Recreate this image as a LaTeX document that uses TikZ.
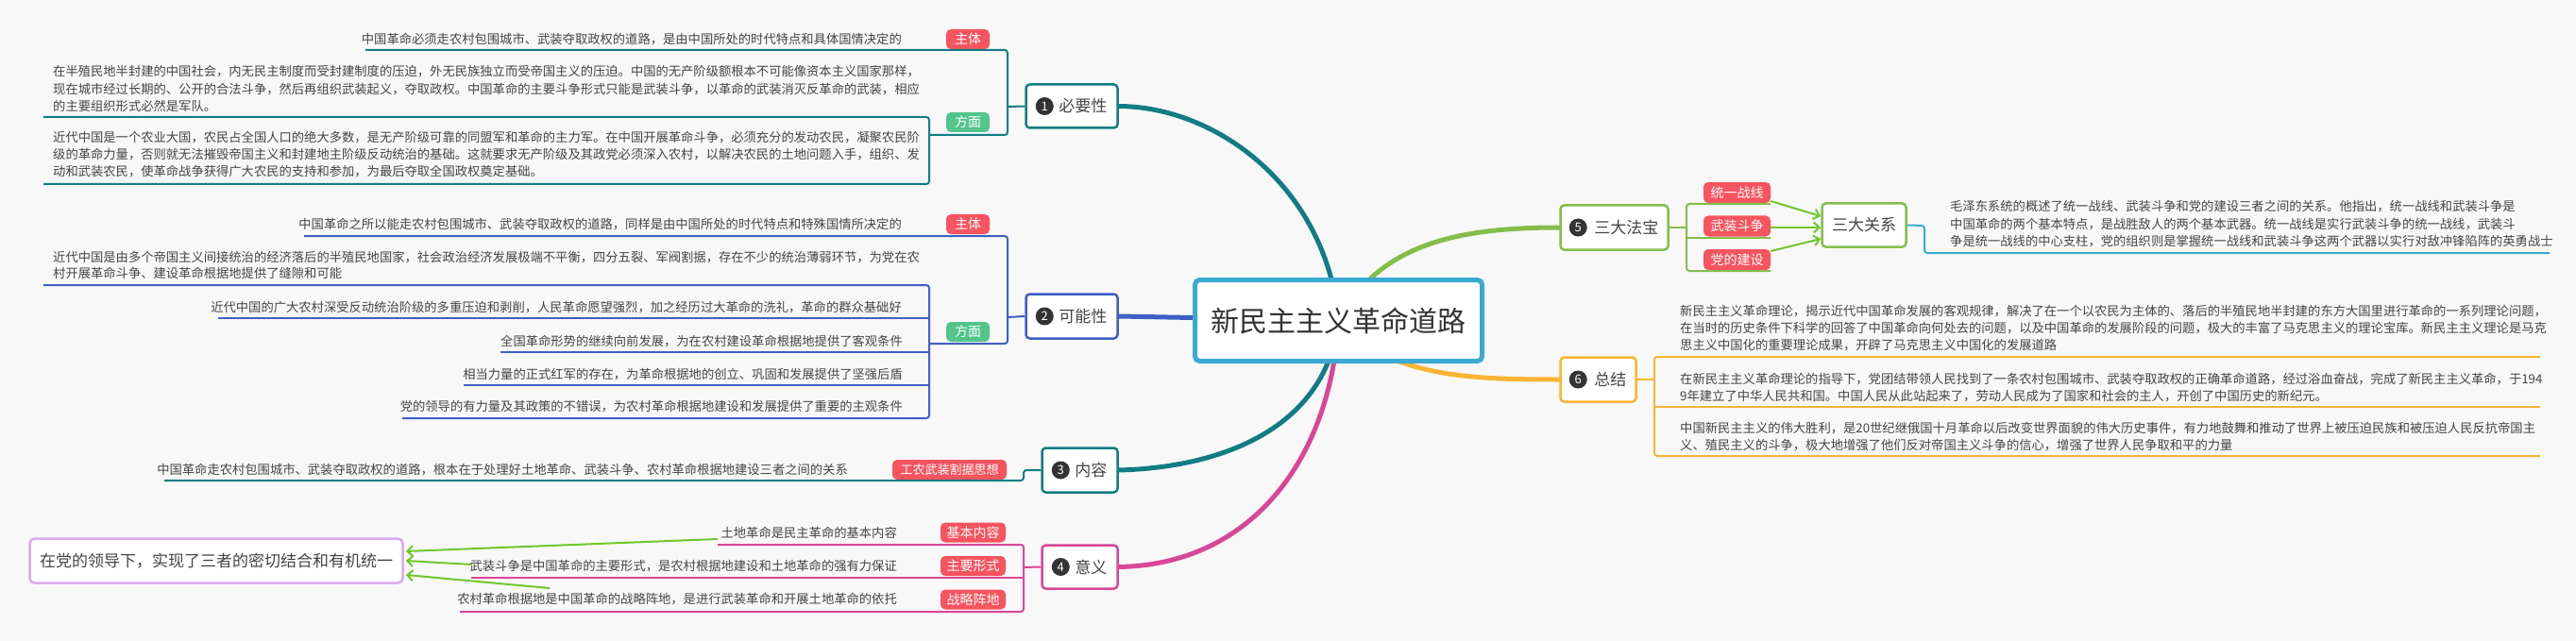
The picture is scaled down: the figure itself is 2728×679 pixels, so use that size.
\documentclass[tikz,border=0pt]{standalone}
\usepackage{fontspec}
\setmainfont{Noto Sans CJK SC}
\usetikzlibrary{arrows.meta}
\pgfdeclarelayer{back}
\pgfdeclarelayer{lines}
\pgfsetlayers{back,lines,main}
\definecolor{bgc}{RGB}{248,248,248}
\definecolor{txtc}{RGB}{68,68,68}
\definecolor{cteal}{RGB}{17,124,133}
\definecolor{cblue}{RGB}{63,95,196}
\definecolor{cpink}{RGB}{217,70,152}
\definecolor{cgreen}{RGB}{132,190,74}
\definecolor{carrow}{RGB}{112,200,44}
\definecolor{cyellow}{RGB}{251,180,52}
\definecolor{clblue}{RGB}{58,170,210}
\definecolor{cpurple}{RGB}{220,168,240}
\definecolor{cred}{RGB}{246,84,94}
\definecolor{ctagg}{RGB}{82,196,140}
\definecolor{cnum}{RGB}{51,51,51}
\begin{document}
\begin{tikzpicture}[x=1pt,y=-1pt,
  txt/.style={font=\fontsize{13.3}{16}\selectfont, text=txtc, inner sep=0pt},
  tagbox/.style={fill=#1, rounded corners=5pt, text=white, font=\fontsize{14}{16}\selectfont, inner sep=0pt, minimum height=21pt},
  branchbox/.style={draw=#1, fill=white, line width=2.5pt, rounded corners=4pt, inner sep=0pt},
  numc/.style={circle, fill=cnum, text=white, inner sep=0pt, minimum size=19pt, font=\fontsize{13}{13}\selectfont},
  lbl/.style={font=\fontsize{17}{20}\selectfont, text=txtc, inner sep=0pt},
  br/.style={draw=#1, line width=2pt, rounded corners=3pt},
  mainline/.style={draw=#1, line width=5pt, line cap=round},
  arr/.style={draw=carrow, line width=2pt, -{Straight Barb[length=6pt,width=11pt]}}
]
\begin{pgfonlayer}{back}
\fill[bgc] (0,0) rectangle (2728,679);
\end{pgfonlayer}
\useasboundingbox (0,0) rectangle (2728,679);

% central topic
\node[draw=clblue, fill=white, line width=5pt, rounded corners=5pt, minimum width=304pt, minimum height=86pt, inner sep=0pt, font=\fontsize{30}{34}\selectfont, text=cnum] (root) at (1417.5,339.5) {新民主主义革命道路};

% branch topics
\node[branchbox=cteal, minimum width=97pt, minimum height=46pt] (n1) at (1135,112.5) {};
\node[numc] (n1c) at ([xshift=21pt]n1.west) {1};
\node[lbl, anchor=west] (n1l) at ([xshift=36pt]n1.west) {必要性};

\node[branchbox=cblue, minimum width=97pt, minimum height=47pt] (n2) at (1135,335) {};
\node[numc] (n2c) at ([xshift=21pt]n2.west) {2};
\node[lbl, anchor=west] (n2l) at ([xshift=36pt]n2.west) {可能性};

\node[branchbox=cteal, minimum width=80pt, minimum height=47pt] (n3) at (1143.5,498) {};
\node[numc] (n3c) at ([xshift=21pt]n3.west) {3};
\node[lbl, anchor=west] (n3l) at ([xshift=36pt]n3.west) {内容};

\node[branchbox=cpink, minimum width=80pt, minimum height=46pt] (n4) at (1143.5,600.5) {};
\node[numc] (n4c) at ([xshift=21pt]n4.west) {4};
\node[lbl, anchor=west] (n4l) at ([xshift=36pt]n4.west) {意义};

\node[branchbox=cgreen, minimum width=114pt, minimum height=47pt] (n5) at (1709.5,241) {};
\node[numc] (n5c) at ([xshift=20pt]n5.west) {5};
\node[lbl, anchor=west] (n5l) at ([xshift=37pt]n5.west) {三大法宝};

\node[branchbox=cyellow, minimum width=80pt, minimum height=47pt] (n6) at (1692.5,402) {};
\node[numc] (n6c) at ([xshift=20pt]n6.west) {6};
\node[lbl, anchor=west] (n6l) at ([xshift=37pt]n6.west) {总结};

% main curves
\begin{pgfonlayer}{lines}
\draw[mainline=cteal] (n1.east) .. controls (1290,113) and (1405,200) .. (root.center);
\draw[mainline=cblue] (n2.east) -- (root.center);
\draw[mainline=cteal] (n3.east) .. controls (1300,495) and (1405,450) .. (root.center);
\draw[mainline=cpink] (n4.east) .. controls (1330,598) and (1410,480) .. (root.center);
\draw[mainline=cgreen] (root.center) .. controls (1460,260) and (1540,241) .. (n5.west);
\draw[mainline=cyellow] (root.center) .. controls (1470,400) and (1560,402) .. (n6.west);
\end{pgfonlayer}

% ---------- 1 必要性 ----------
\node[txt, anchor=base east] (n1a) at (955,47) {中国革命必须走农村包围城市、武装夺取政权的道路，是由中国所处的时代特点和具体国情决定的};
\node[txt, anchor=base west] (n1b1) at (56,81) {在半殖民地半封建的中国社会，内无民主制度而受封建制度的压迫，外无民族独立而受帝国主义的压迫。中国的无产阶级额根本不可能像资本主义国家那样，};
\node[txt, anchor=base west] (n1b2) at (56,100) {现在城市经过长期的、公开的合法斗争，然后再组织武装起义，夺取政权。中国革命的主要斗争形式只能是武装斗争，以革命的武装消灭反革命的武装，相应};
\node[txt, anchor=base west] (n1b3) at (56,118) {的主要组织形式必然是军队。};
\node[txt, anchor=base west] (n1c1) at (56,151) {近代中国是一个农业大国，农民占全国人口的绝大多数，是无产阶级可靠的同盟军和革命的主力军。在中国开展革命斗争，必须充分的发动农民，凝聚农民阶};
\node[txt, anchor=base west] (n1c2) at (56,169) {级的革命力量，否则就无法摧毁帝国主义和封建地主阶级反动统治的基础。这就要求无产阶级及其政党必须深入农村，以解决农民的土地问题入手，组织、发};
\node[txt, anchor=base west] (n1c3) at (56,187) {动和武装农民，使革命战争获得广大农民的支持和参加，为最后夺取全国政权奠定基础。};
\node[tagbox=cred, minimum width=46pt] (n1t1) at (1025,41.5) {主体};
\node[tagbox=ctagg, minimum width=46pt] (n1t2) at (1025,129.5) {方面};
\draw[br=cteal] (387,53) -- (1067,53) -- (1067,143) -- (984,143);
\draw[br=cteal] (46,124) -- (984,124) -- (984,195) -- (46,195);
\draw[br=cteal] (n1.west) -- (1067,113);

% ---------- 2 可能性 ----------
\node[txt, anchor=base east] (n2a) at (955,243) {中国革命之所以能走农村包围城市、武装夺取政权的道路，同样是由中国所处的时代特点和特殊国情所决定的};
\node[txt, anchor=base west] (n2b1) at (56,277) {近代中国是由多个帝国主义间接统治的经济落后的半殖民地国家，社会政治经济发展极端不平衡，四分五裂、军阀割据，存在不少的统治薄弱环节，为党在农};
\node[txt, anchor=base west] (n2b2) at (56,294) {村开展革命斗争、建设革命根据地提供了缝隙和可能};
\node[txt, anchor=base east] (n2c) at (955,330) {近代中国的广大农村深受反动统治阶级的多重压迫和剥削，人民革命愿望强烈，加之经历过大革命的洗礼，革命的群众基础好};
\node[txt, anchor=base east] (n2d) at (956,366) {全国革命形势的继续向前发展，为在农村建设革命根据地提供了客观条件};
\node[txt, anchor=base east] (n2e) at (956,401) {相当力量的正式红军的存在，为革命根据地的创立、巩固和发展提供了坚强后盾};
\node[txt, anchor=base east] (n2f) at (956,435) {党的领导的有力量及其政策的不错误，为农村革命根据地建设和发展提供了重要的主观条件};
\node[tagbox=cred, minimum width=46pt] (n2t1) at (1025,237.5) {主体};
\node[tagbox=ctagg, minimum width=46pt] (n2t2) at (1025,351.5) {方面};
\draw[br=cblue] (322,250) -- (1067,250) -- (1067,364) -- (984,364);
\draw[br=cblue] (46,302) -- (984,302) -- (984,443) -- (426,443);
\draw[br=cblue] (231,337) -- (984,337);
\draw[br=cblue] (530,373) -- (984,373);
\draw[br=cblue] (491,408) -- (984,408);
\draw[br=cblue] (n2.west) -- (1067,336);

% ---------- 3 内容 ----------
\node[txt, anchor=base east] (n3a) at (898,502) {中国革命走农村包围城市、武装夺取政权的道路，根本在于处理好土地革命、武装斗争、农村革命根据地建设三者之间的关系};
\node[tagbox=cred, minimum width=121pt, font=\fontsize{13}{16}\selectfont] (n3t) at (1005.5,497.5) {工农武装割据思想};
\draw[br=cteal] (174,509) -- (1084,509) -- (1084,498) -- (n3.west);

% ---------- 4 意义 ----------
\node[txt, anchor=base east] (n4a) at (950,569) {土地革命是民主革命的基本内容};
\node[txt, anchor=base east] (n4b) at (950,604) {武装斗争是中国革命的主要形式，是农村根据地建设和土地革命的强有力保证};
\node[txt, anchor=base east] (n4cc) at (950,639) {农村革命根据地是中国革命的战略阵地，是进行武装革命和开展土地革命的依托};
\node[tagbox=cred, minimum width=69pt] (n4t1) at (1030.5,564) {基本内容};
\node[tagbox=cred, minimum width=69pt] (n4t2) at (1030.5,599.5) {主要形式};
\node[tagbox=cred, minimum width=69pt] (n4t3) at (1030.5,635) {战略阵地};
\draw[br=cpink] (760,577) -- (1084,577) -- (1084,648) -- (487,648);
\draw[br=cpink] (499,612) -- (1084,612);
\draw[br=cpink] (n4.west) -- (1084,601);

% summary node
\node[draw=cpurple, fill=white, line width=2.5pt, rounded corners=5pt, minimum width=395pt, minimum height=47pt, inner sep=0pt, font=\fontsize{17}{20}\selectfont, text=txtc] (pur) at (229,594) {在党的领导下，实现了三者的密切结合和有机统一};
\coordinate (s1) at (760,571);
\coordinate (s2) at (500,598);
\coordinate (s3) at (582,623);
\draw[arr] (s1) -- ([yshift=10pt,xshift=2pt]pur.east);
\draw[arr] (s2) -- ([xshift=2pt]pur.east);
\draw[arr] (s3) -- ([yshift=-15pt,xshift=2pt]pur.east);

% ---------- 5 三大法宝 ----------
\node[tagbox=cred, minimum width=71pt, minimum height=22pt] (n5t1) at (1839.5,204) {统一战线};
\node[tagbox=cred, minimum width=71pt, minimum height=22pt] (n5t2) at (1839.5,239.5) {武装斗争};
\node[tagbox=cred, minimum width=71pt, minimum height=22pt] (n5t3) at (1839.5,275) {党的建设};
\draw[br=cgreen] (n5.east) -- (1786,241);
\draw[br=cgreen] (1875,216) -- (1786,216) -- (1786,287) -- (1875,287);
\draw[br=cgreen] (1786,252) -- (1875,252);
\node[branchbox=cgreen, minimum width=89pt, minimum height=46pt, font=\fontsize{17}{20}\selectfont, text=txtc] (rel) at (1974,238.5) {三大关系};
\draw[arr] ([xshift=0pt,yshift=-9pt]n5t1.east) -- ([yshift=9.5pt]rel.west);
\draw[arr] ([yshift=-1.5pt]n5t2.east) -- ([yshift=-2.5pt]rel.west);
\draw[arr] ([yshift=9pt]n5t3.east) -- ([yshift=-14.5pt]rel.west);
\draw[br=clblue] (rel.east) -- (2038,239) -- (2038,268) -- (2700,268);
\node[txt, anchor=base west] (r1) at (2065,224) {毛泽东系统的概述了统一战线、武装斗争和党的建设三者之间的关系。他指出，统一战线和武装斗争是};
\node[txt, anchor=base west] (r2) at (2065,243) {中国革命的两个基本特点，是战胜敌人的两个基本武器。统一战线是实行武装斗争的统一战线，武装斗};
\node[txt, anchor=base west] (r3) at (2065,261) {争是统一战线的中心支柱，党的组织则是掌握统一战线和武装斗争这两个武器以实行对敌冲锋陷阵的英勇战士};

% ---------- 6 总结 ----------
\node[txt, anchor=base west] (z11) at (1779,334) {新民主主义革命理论，揭示近代中国革命发展的客观规律，解决了在一个以农民为主体的、落后的半殖民地半封建的东方大国里进行革命的一系列理论问题，};
\node[txt, anchor=base west] (z12) at (1779,352) {在当时的历史条件下科学的回答了中国革命向何处去的问题，以及中国革命的发展阶段的问题，极大的丰富了马克思主义的理论宝库。新民主主义理论是马克};
\node[txt, anchor=base west] (z13) at (1779,370) {思主义中国化的重要理论成果，开辟了马克思主义中国化的发展道路};
\node[txt, anchor=base west] (z21) at (1779,406) {在新民主主义革命理论的指导下，党团结带领人民找到了一条农村包围城市、武装夺取政权的正确革命道路，经过浴血奋战，完成了新民主主义革命，于194};
\node[txt, anchor=base west] (z22) at (1779,424) {9年建立了中华人民共和国。中国人民从此站起来了，劳动人民成为了国家和社会的主人，开创了中国历史的新纪元。};
\node[txt, anchor=base west] (z31) at (1779,458) {中国新民主主义的伟大胜利，是20世纪继俄国十月革命以后改变世界面貌的伟大历史事件，有力地鼓舞和推动了世界上被压迫民族和被压迫人民反抗帝国主};
\node[txt, anchor=base west] (z32) at (1779,476) {义、殖民主义的斗争，极大地增强了他们反对帝国主义斗争的信心，增强了世界人民争取和平的力量};
\draw[br=cyellow] (n6.east) -- (1752,402);
\draw[br=cyellow] (2690,378) -- (1752,378) -- (1752,483) -- (2690,483);
\draw[br=cyellow] (1752,431) -- (2690,431);
\end{tikzpicture}
\end{document}
